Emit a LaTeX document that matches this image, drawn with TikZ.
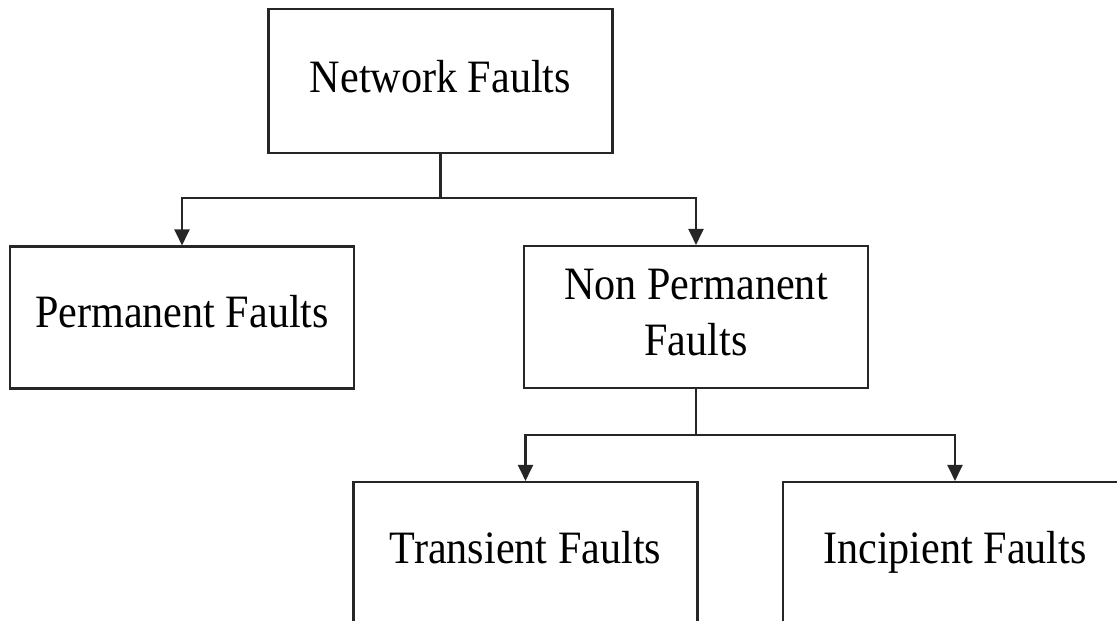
\documentclass[tikz,border=0pt]{standalone}
\usepackage{fontspec}
\setmainfont{Liberation Serif}
\usetikzlibrary{arrows.meta}
\newcommand\stz[1]{\scalebox{1}[1.1]{#1}}
\begin{document}
\begin{tikzpicture}[x=0.02cm,y=-0.02cm,
  box/.style={draw=black!85,line width=1.2pt,minimum width=6.88cm,minimum height=2.84cm,inner sep=0pt,
    font=\fontsize{24}{32}\selectfont,text height=0.63cm,text depth=0.21cm},
  conn/.style={draw=black!85,line width=1.2pt},
  arr/.style={conn,-{Triangle[width=0.3cm,length=0.32cm]}}]
\useasboundingbox (0,0) rectangle (1117,621);
\clip (0,0) rectangle (1117,621);
\node[box,minimum height=2.88cm,text depth=0.15cm] (nf) at (440.5,81) {\stz{Network Faults}};
\node[box] (pf) at (182,317.5) {\stz{Permanent Faults}};
\node[box,text height=1.75cm] (np) at (696,317) {\begin{tabular}[b]{@{}c@{}}\stz{Non Permanent}\\\stz{Faults}\end{tabular}};
\node[box] (tf) at (525.5,553) {\stz{Transient Faults}};
\node[box] (inc) at (955,553) {\stz{Incipient Faults}};
\draw[conn] (nf.south) -- ++(0,44) coordinate (j1);
\draw[arr] (j1) -| (pf.north);
\draw[arr] (j1) -| (np.north);
\draw[conn] (np.south) -- ++(0,46) coordinate (j2);
\draw[arr] (j2) -| (tf.north);
\draw[arr] (j2) -| (inc.north);
\end{tikzpicture}
\end{document}
